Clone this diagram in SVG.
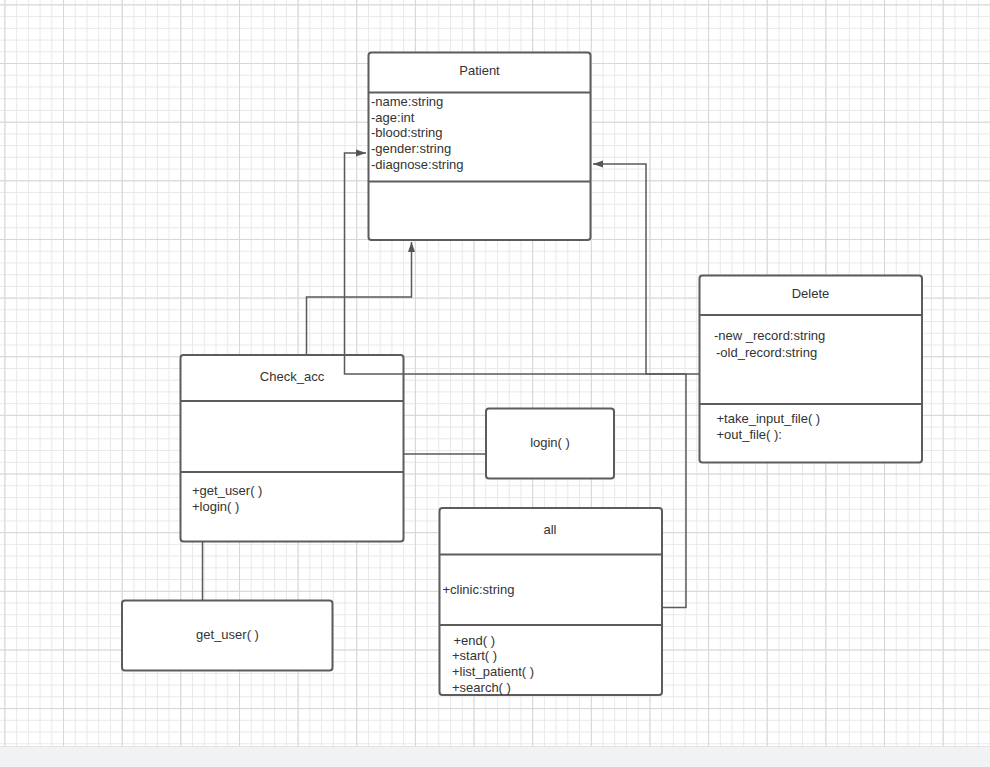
<svg xmlns="http://www.w3.org/2000/svg" width="990" height="767" viewBox="0 0 990 767">
<defs>
<pattern id="minor" x="4.4" y="4.4" width="11.728" height="11.728" patternUnits="userSpaceOnUse">
<path d="M0,0.5 H11.728 M0.5,0 V11.728" stroke="#e8e8e8" stroke-width="1" fill="none"/>
</pattern>
<pattern id="major" x="4.4" y="4.4" width="58.64" height="58.64" patternUnits="userSpaceOnUse">
<path d="M0,0.5 H58.64 M0.5,0 V58.64" stroke="#d6d6d6" stroke-width="1" fill="none"/>
</pattern>
<marker id="arr" markerUnits="userSpaceOnUse" markerWidth="10" markerHeight="8" refX="10" refY="4" orient="auto">
<path d="M0,0.5 L10,4 L0,7.5 z" fill="#555"/>
</marker>
</defs>
<style>
.box{fill:#fff;stroke:#5c5c5c;stroke-width:2}
.div{stroke:#5c5c5c;stroke-width:2;fill:none}
.con{stroke:#5a5a5a;stroke-width:1.5;fill:none}
text{font-family:"Liberation Sans",Arial,sans-serif;font-size:13px;fill:#333}
.c{text-anchor:middle}
</style>
<rect x="0" y="0" width="990" height="767" fill="#fff"/>
<rect x="0" y="0" width="990" height="746" fill="url(#minor)"/>
<rect x="0" y="0" width="990" height="746" fill="url(#major)"/>
<rect x="0" y="746" width="990" height="21" fill="#f1f2f4"/>
<line x1="0" y1="746.5" x2="990" y2="746.5" stroke="#e2e3e5" stroke-width="1"/>

<g id="patient">
<rect class="box" x="368.5" y="52.5" width="222" height="187.5" rx="3"/>
<line class="div" x1="368.5" y1="92.5" x2="590.5" y2="92.5"/>
<line class="div" x1="368.5" y1="181.5" x2="590.5" y2="181.5"/>
<text class="c" x="479.5" y="74.5">Patient</text>
<text x="371" y="105.5">-name:string</text>
<text x="371" y="121.5">-age:int</text>
<text x="371" y="136.5">-blood:string</text>
<text x="371" y="152.5">-gender:string</text>
<text x="371" y="168.5">-diagnose:string</text>
</g>

<g id="check_acc">
<rect class="box" x="180.5" y="355" width="223" height="186.5" rx="3"/>
<line class="div" x1="180.5" y1="401" x2="403.5" y2="401"/>
<line class="div" x1="180.5" y1="472" x2="403.5" y2="472"/>
<text class="c" x="292" y="380.5">Check_acc</text>
<text x="192" y="494.5">+get_user( )</text>
<text x="192" y="510.5">+login( )</text>
</g>

<g id="login">
<rect class="box" x="486" y="408.5" width="128" height="70" rx="3"/>
<text class="c" x="550" y="446.5">login( )</text>
</g>

<g id="get_user">
<rect class="box" x="122" y="600.5" width="210.5" height="70" rx="3"/>
<text class="c" x="227.5" y="638.5">get_user( )</text>
</g>

<g id="all">
<rect class="box" x="439.5" y="508" width="222.5" height="187" rx="3"/>
<line class="div" x1="439.5" y1="554.5" x2="662" y2="554.5"/>
<line class="div" x1="439.5" y1="625" x2="662" y2="625"/>
<text class="c" x="550" y="533.5">all</text>
<text x="442.5" y="593.5">+clinic:string</text>
<text x="453.5" y="644.5">+end( )</text>
<text x="452" y="660">+start( )</text>
<text x="452" y="675.5">+list_patient( )</text>
<text x="452" y="691.5">+search( )</text>
</g>

<g id="delete">
<rect class="box" x="699.5" y="275.5" width="222.5" height="187" rx="3"/>
<line class="div" x1="699.5" y1="315" x2="922" y2="315"/>
<line class="div" x1="699.5" y1="404" x2="922" y2="404"/>
<text class="c" x="810.5" y="297.5">Delete</text>
<text x="714" y="340">-new _record:string</text>
<text x="716" y="356.5">-old_record:string</text>
<text x="716.5" y="423">+take_input_file( )</text>
<text x="716.5" y="439">+out_file( ):</text>
</g>

<g id="connectors">
<path class="con" d="M699,374 H646 V164 H593" marker-end="url(#arr)"/>
<path class="con" d="M662,607.5 H686 V374 H344.5 V153 H366" marker-end="url(#arr)"/>
<path class="con" d="M306.5,355 V297 H411.5 V242" marker-end="url(#arr)"/>
<path class="con" d="M403.5,454 H486"/>
<path class="con" d="M202.5,541.5 V600.5"/>
</g>
</svg>
